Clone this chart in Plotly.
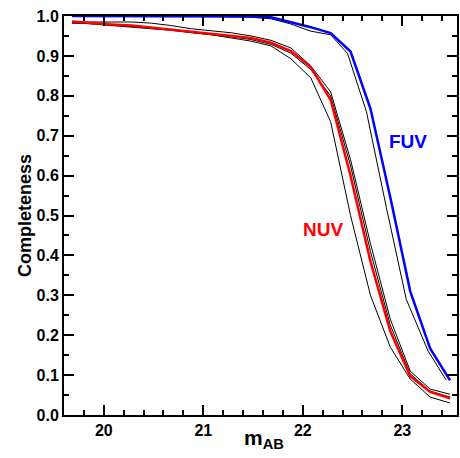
import plotly.graph_objects as go

# magnitude grid (bin positions)
mag = [19.68, 19.88, 20.08, 20.28, 20.48, 20.68, 20.88, 21.08, 21.28, 21.48,
       21.68, 21.88, 22.08, 22.28, 22.48, 22.68, 22.88, 23.08, 23.28, 23.48]

# FUV (blue) and its companion black curve
fuv_main = [1.0, 1.0, 1.0, 1.0, 1.0, 1.0, 1.0, 1.0, 0.999, 0.999,
            0.997, 0.985, 0.972, 0.957, 0.911, 0.768, 0.545, 0.31, 0.167, 0.087]
fuv_alt_mag = [19.68, 19.88, 20.08, 20.28, 20.48, 20.68, 20.88, 21.08, 21.28, 21.48,
               21.68, 21.88, 22.08, 22.28, 22.45, 22.64, 22.84, 23.04, 23.26, 23.44]
fuv_alt = [1.0, 1.0, 1.0, 1.0, 1.0, 1.0, 1.0, 0.999, 0.998, 0.997,
           0.993, 0.98, 0.962, 0.953, 0.906, 0.76, 0.52, 0.29, 0.16, 0.088]

# NUV (red) and its companion black curves
nuv_main = [0.986, 0.982, 0.979, 0.976, 0.971, 0.966, 0.961, 0.956, 0.951, 0.945,
            0.933, 0.912, 0.872, 0.79, 0.60, 0.385, 0.21, 0.097, 0.058, 0.042]
nuv_alt1 = [0.983, 0.985, 0.985, 0.985, 0.982, 0.976, 0.968, 0.963, 0.958, 0.95,
            0.939, 0.92, 0.875, 0.81, 0.64, 0.43, 0.24, 0.11, 0.065, 0.052]
nuv_alt2 = [0.984, 0.980, 0.977, 0.973, 0.969, 0.964, 0.958, 0.953, 0.948, 0.941,
            0.929, 0.907, 0.866, 0.80, 0.625, 0.41, 0.225, 0.103, 0.06, 0.045]
nuv_alt3 = [0.982, 0.981, 0.978, 0.974, 0.970, 0.965, 0.959, 0.953, 0.945, 0.937,
            0.925, 0.893, 0.845, 0.735, 0.50, 0.30, 0.17, 0.09, 0.045, 0.03]

fig = go.Figure()
thin = dict(color="black", width=1)
for ys in (nuv_alt1, nuv_alt2, nuv_alt3):
    fig.add_trace(go.Scatter(x=mag, y=ys, mode="lines", line=thin))
fig.add_trace(go.Scatter(x=fuv_alt_mag, y=fuv_alt, mode="lines", line=thin))
fig.add_trace(go.Scatter(x=mag, y=nuv_main, mode="lines",
                         line=dict(color="#ff0000", width=2.5)))
fig.add_trace(go.Scatter(x=mag, y=fuv_main, mode="lines",
                         line=dict(color="#0000ff", width=2.5)))

fig.add_annotation(x=23.06, y=0.686, text="<b>FUV</b>", showarrow=False,
                   font=dict(family="Arial", size=19, color="#0000ff"))
fig.add_annotation(x=22.2, y=0.466, text="<b>NUV</b>", showarrow=False,
                   font=dict(family="Arial", size=19, color="#ff0000"))
# x-axis title placed as paper annotation for precise position
fig.add_annotation(xref="paper", yref="paper", x=0.5085, y=-0.0218,
                   xanchor="center", yanchor="top", showarrow=False,
                   text="<b>m<sub>AB</sub></b>",
                   font=dict(family="Arial", size=21, color="black"))

axis_common = dict(showgrid=False, zeroline=False, showline=True, linecolor="black",
                   linewidth=2, mirror="allticks", ticks="inside", ticklen=10,
                   tickwidth=1.5, tickcolor="black",
                   tickfont=dict(family="Arial", size=16, color="black", weight="bold"))
fig.update_xaxes(range=[19.6, 23.55], dtick=1, tick0=20,
                 minor=dict(dtick=0.2, tick0=20, ticks="inside", ticklen=5,
                            tickwidth=1.5, tickcolor="black"),
                 **axis_common)
fig.update_yaxes(range=[0, 1.0], dtick=0.1, tick0=0, tickformat=".1f",
                 minor=dict(dtick=0.05, tick0=0, ticks="inside", ticklen=5,
                            tickwidth=1.5, tickcolor="black"),
                 title=dict(text="<b>Completeness</b>", standoff=0,
                            font=dict(family="Arial", size=18, color="black")),
                 **axis_common)
fig.update_layout(width=460, height=458, showlegend=False,
                  plot_bgcolor="white", paper_bgcolor="white",
                  margin=dict(l=64.3, r=1, t=15.7, b=42.7))
fig.write_html("out.html")
